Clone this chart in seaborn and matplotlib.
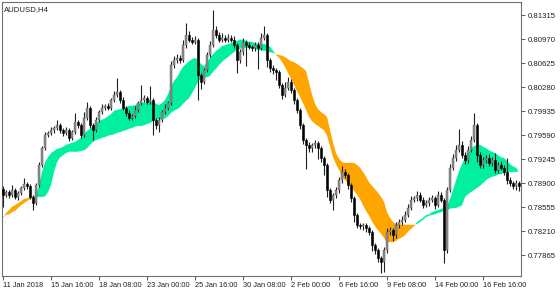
import matplotlib
matplotlib.use("Agg")
import matplotlib.pyplot as plt
import seaborn as sns
import numpy as np
import pandas as pd

symbol_title = "AUDUSD,H4"

first_open = 0.7882
closes = [
    0.7873, 0.7877, 0.7873, 0.7880, 0.7870, 0.7876, 0.7883, 0.7889, 0.7886, 0.7870,
    0.7861, 0.7887, 0.7916, 0.7940, 0.7959, 0.7962, 0.7966, 0.7969, 0.7973, 0.7966,
    0.7962, 0.7966, 0.7955, 0.7963, 0.7978, 0.7973, 0.7959, 0.7984, 0.7998, 0.7973,
    0.7966, 0.7981, 0.7992, 0.7998, 0.8001, 0.7998, 0.8009, 0.8017, 0.8021, 0.8009,
    0.7998, 0.7991, 0.7984, 0.7986, 0.7995, 0.8005, 0.8009, 0.8012, 0.8007, 0.8009,
    0.7981, 0.7973, 0.7981, 0.7992, 0.7998, 0.8005, 0.8060, 0.8067, 0.8070, 0.8067,
    0.8088, 0.8103, 0.8096, 0.8093, 0.8096, 0.8045, 0.8035, 0.8052, 0.8074, 0.8088,
    0.8110, 0.8103, 0.8096, 0.8099, 0.8096, 0.8099, 0.8096, 0.8088, 0.8067, 0.8078,
    0.8093, 0.8088, 0.8086, 0.8084, 0.8088, 0.8084, 0.8099, 0.8103, 0.8067, 0.8055,
    0.8052, 0.8050, 0.8031, 0.8017, 0.8027, 0.8035, 0.8024, 0.8009, 0.7995, 0.7973,
    0.7952, 0.7945, 0.7940, 0.7945, 0.7948, 0.7940, 0.7926, 0.7916, 0.7880, 0.7866,
    0.7873, 0.7880, 0.7894, 0.7906, 0.7902, 0.7887, 0.7868, 0.7844, 0.7830, 0.7828,
    0.7830, 0.7825, 0.7820, 0.7801, 0.7794, 0.7782, 0.7777, 0.7794, 0.7820, 0.7823,
    0.7815, 0.7830, 0.7834, 0.7837, 0.7844, 0.7854, 0.7866, 0.7868, 0.7873, 0.7866,
    0.7858, 0.7861, 0.7866, 0.7868, 0.7858, 0.7873, 0.7866, 0.7794, 0.7880, 0.7912,
    0.7926, 0.7938, 0.7945, 0.7930, 0.7923, 0.7938, 0.7952, 0.7973, 0.7930, 0.7916,
    0.7923, 0.7926, 0.7919, 0.7923, 0.7909, 0.7916, 0.7912, 0.7906, 0.7894, 0.7890,
    0.7886, 0.7890, 0.7886,
]

upper_wick_pips = [
    3, 3, 3, 7, 3, 3, 3, 8, 3, 3,
    3, 3, 4, 3, 4, 3, 5, 3, 8, 3,
    3, 4, 3, 3, 12, 3, 3, 8, 8, 3,
    3, 4, 3, 5, 3, 4, 3, 5, 20, 3,
    5, 3, 4, 3, 5, 3, 22, 5, 3, 20,
    3, 3, 4, 3, 5, 3, 5, 6, 5, 4,
    8, 17, 5, 4, 6, 3, 3, 4, 5, 6,
    29, 5, 4, 6, 4, 5, 4, 5, 3, 5,
    6, 3, 4, 3, 5, 4, 6, 12, 3, 3,
    4, 3, 3, 3, 8, 8, 4, 3, 3, 3,
    3, 3, 4, 3, 4, 3, 3, 3, 3, 3,
    3, 4, 5, 8, 4, 3, 3, 3, 3, 3,
    3, 3, 3, 3, 3, 3, 3, 4, 5, 4,
    3, 4, 4, 6, 6, 6, 6, 4, 5, 4,
    4, 5, 4, 5, 4, 6, 4, 3, 4, 5,
    5, 6, 22, 5, 4, 5, 6, 17, 3, 4,
    5, 4, 6, 4, 10, 4, 5, 4, 20, 4,
    3, 4, 3,
]

lower_wick_pips = [
    17, 3, 4, 3, 3, 4, 3, 3, 4, 3,
    10, 3, 3, 3, 3, 3, 3, 4, 3, 4,
    4, 3, 5, 3, 3, 4, 5, 3, 3, 4,
    14, 3, 3, 3, 3, 3, 3, 3, 3, 4,
    3, 4, 4, 3, 3, 3, 3, 3, 3, 3,
    22, 5, 10, 3, 3, 3, 3, 4, 4, 4,
    3, 4, 4, 3, 3, 36, 10, 3, 3, 3,
    3, 4, 4, 3, 4, 3, 4, 4, 19, 4,
    4, 30, 4, 4, 4, 30, 3, 3, 10, 6,
    6, 12, 5, 6, 4, 4, 5, 5, 5, 6,
    6, 35, 6, 6, 5, 15, 6, 15, 10, 5,
    15, 5, 4, 4, 5, 5, 6, 10, 5, 4,
    5, 5, 5, 8, 6, 6, 16, 15, 5, 5,
    8, 4, 4, 4, 3, 3, 3, 3, 4, 3,
    4, 3, 4, 3, 5, 3, 4, 19, 4, 3,
    3, 4, 3, 4, 5, 4, 3, 3, 10, 5,
    4, 4, 5, 4, 5, 4, 4, 5, 6, 5,
    5, 6, 8,
]

fast_line = [
    0.7842,
    0.7844, 0.7845, 0.7848, 0.7850, 0.7854, 0.7858, 0.7861, 0.7864, 0.7867, 0.7870,
    0.7873, 0.7887, 0.7906, 0.7920, 0.7927, 0.7933, 0.7936, 0.7939, 0.7940, 0.7942,
    0.7945, 0.7946, 0.7948, 0.7949, 0.7952, 0.7955, 0.7959, 0.7965, 0.7968, 0.7972,
    0.7976, 0.7979, 0.7981, 0.7983, 0.7986, 0.7989, 0.7994, 0.7995, 0.7996, 0.7998,
    0.7999, 0.8001, 0.8001, 0.8002, 0.8004, 0.8005, 0.8006, 0.8006, 0.8008, 0.8006,
    0.8004, 0.8002, 0.8005, 0.8009, 0.8018, 0.8028, 0.8037, 0.8042, 0.8050, 0.8057,
    0.8061, 0.8065, 0.8068, 0.8070, 0.8067, 0.8061, 0.8058, 0.8063, 0.8070, 0.8075,
    0.8080, 0.8083, 0.8087, 0.8088, 0.8090, 0.8091, 0.8093, 0.8094, 0.8096, 0.8096,
    0.8094, 0.8093, 0.8093, 0.8091, 0.8090, 0.8090, 0.8090, 0.8088, 0.8086, 0.8080,
    0.8074, 0.8070, 0.8064, 0.8057, 0.8048, 0.8040, 0.8031, 0.8022, 0.8014, 0.8005,
    0.7995, 0.7985, 0.7979, 0.7975, 0.7972, 0.7969, 0.7966, 0.7958, 0.7943, 0.7927,
    0.7917, 0.7909, 0.7900, 0.7894, 0.7889, 0.7884, 0.7879, 0.7873, 0.7867, 0.7858,
    0.7850, 0.7843, 0.7835, 0.7828, 0.7822, 0.7817, 0.7811, 0.7805, 0.7805, 0.7805,
    0.7807, 0.7810, 0.7812, 0.7815, 0.7820, 0.7824, 0.7828,
    0.7834, 0.7837, 0.7840, 0.7844, 0.7845, 0.7848, 0.7850, 0.7851, 0.7853, 0.7854,
    0.7857, 0.7867, 0.7880, 0.7894, 0.7907, 0.7917, 0.7927, 0.7933, 0.7939, 0.7943,
    0.7945, 0.7945, 0.7942, 0.7940, 0.7937, 0.7935, 0.7933, 0.7930, 0.7927, 0.7926,
    0.7922, 0.7917, 0.7914, 0.7912,
    0.7906,
]

slow_line = [
    0.7840,
    0.7847, 0.7851, 0.7856, 0.7858, 0.7861, 0.7864, 0.7867, 0.7868, 0.7870, 0.7871,
    0.7870, 0.7870, 0.7870, 0.7871, 0.7877, 0.7887, 0.7906, 0.7920, 0.7927, 0.7930,
    0.7933, 0.7935, 0.7935, 0.7935, 0.7935, 0.7936, 0.7937, 0.7940, 0.7945, 0.7949,
    0.7952, 0.7953, 0.7955, 0.7956, 0.7958, 0.7959, 0.7960, 0.7962, 0.7963, 0.7965,
    0.7966, 0.7968, 0.7969, 0.7971, 0.7972, 0.7972, 0.7973, 0.7975, 0.7976, 0.7979,
    0.7981, 0.7982, 0.7982, 0.7983, 0.7986, 0.7991, 0.7994, 0.7996, 0.7999, 0.8004,
    0.8008, 0.8012, 0.8019, 0.8027, 0.8035, 0.8041, 0.8042, 0.8042, 0.8044, 0.8050,
    0.8054, 0.8060, 0.8064, 0.8068, 0.8071, 0.8075, 0.8078, 0.8081, 0.8083, 0.8084,
    0.8084, 0.8084, 0.8084, 0.8083, 0.8081, 0.8081, 0.8080, 0.8080, 0.8078, 0.8077,
    0.8075, 0.8074, 0.8073, 0.8071, 0.8068, 0.8065, 0.8064, 0.8061, 0.8058, 0.8055,
    0.8051, 0.8034, 0.8017, 0.8004, 0.7996, 0.7992, 0.7989, 0.7985, 0.7966, 0.7948,
    0.7933, 0.7925, 0.7920, 0.7919, 0.7919, 0.7919, 0.7919, 0.7916, 0.7912, 0.7906,
    0.7899, 0.7891, 0.7886, 0.7881, 0.7876, 0.7870, 0.7863, 0.7848, 0.7840, 0.7834,
    0.7831, 0.7830, 0.7830, 0.7830, 0.7830, 0.7830, 0.7830,
    0.7831, 0.7834, 0.7837, 0.7841, 0.7843, 0.7844, 0.7845, 0.7847, 0.7848, 0.7850,
    0.7851, 0.7853, 0.7854, 0.7854, 0.7856, 0.7858, 0.7870, 0.7874, 0.7877, 0.7880,
    0.7883, 0.7886, 0.7890, 0.7894, 0.7897, 0.7899, 0.7900, 0.7902, 0.7903, 0.7904,
    0.7906, 0.7906, 0.7906, 0.7906,
    0.7907,
]

date_labels = ["11 Jan 2018", "15 Jan 16:00", "18 Jan 08:00", "23 Jan 00:00",
               "25 Jan 16:00", "30 Jan 08:00", "2 Feb 00:00", "6 Feb 16:00",
               "9 Feb 08:00", "14 Feb 00:00", "16 Feb 16:00"]
date_label_bars = [0, 16, 32, 48, 64, 80, 96, 112, 128, 144, 160]
price_ticks = [0.77865, 0.78210, 0.78555, 0.78900, 0.79245, 0.79590,
               0.79935, 0.80280, 0.80625, 0.80970, 0.81315]

sns.set_theme(style="white")
plt.rcParams['font.family'] = ['Liberation Sans', 'DejaVu Sans']

n = len(closes)
df = pd.DataFrame({
    "bar": np.arange(n),
    "close": closes,
    "open": [first_open] + closes[:-1],
    "up": upper_wick_pips,
    "dn": lower_wick_pips,
    "fast": fast_line,
    "slow": slow_line,
})
df["top"] = df[["open", "close"]].max(axis=1)
df["bot"] = df[["open", "close"]].min(axis=1)
df["high"] = df["top"] + df["up"] / 10000.0
df["low"] = df["bot"] - df["dn"] / 10000.0
df["bull"] = df["close"] >= df["open"]

W, H = 560, 294
fig = plt.figure(figsize=(W / 100, H / 100), dpi=100)
fig.patch.set_facecolor("white")
ax = fig.add_axes([2 / W, 18 / H, 519 / W, 274 / H])
ax.set_facecolor("white")

GREEN = "#00F0A0"
ORANGE = "#FFA500"
x = df["bar"].to_numpy(dtype=float)
f = df["fast"].to_numpy()
s = df["slow"].to_numpy()
ax.fill_between(x, f, s, where=f >= s, interpolate=True, color=GREEN, lw=0, zorder=1)
ax.fill_between(x, f, s, where=f <= s, interpolate=True, color=ORANGE, lw=0, zorder=1)

# wicks
ax.vlines(df["bar"], df["low"], df["high"], color="#202020", lw=0.8, zorder=2)
# bodies
heights = np.maximum(df["top"] - df["bot"], 0.00006)
bull = df["bull"].to_numpy()
ax.bar(df["bar"][bull], heights[bull], bottom=df["bot"][bull], width=0.62,
       color="#8c8c8c", edgecolor="#5a5a5a", linewidth=0.3, zorder=3)
ax.bar(df["bar"][~bull], heights[~bull], bottom=df["bot"][~bull], width=0.62,
       color="black", edgecolor="black", linewidth=0.4, zorder=3)

ax.set_xlim(-0.35, 172.65)
ax.set_ylim(0.775635, 0.81502)

ax.yaxis.tick_right()
ax.set_yticks(price_ticks)
ax.set_yticklabels([f"{p:.5f}" for p in price_ticks])
ax.set_xticks(date_label_bars)
ax.set_xticklabels(date_labels)
for lab in ax.get_xticklabels():
    lab.set_ha("left")
ax.tick_params(axis="y", which="both", right=True, left=False, direction="out",
               length=3, width=0.6, color="#404040", labelsize=5.6, pad=1.5,
               labelcolor="#202020")
ax.tick_params(axis="x", which="both", bottom=True, direction="out",
               length=3, width=0.6, color="#404040", labelsize=5.3, pad=1.5,
               labelcolor="#202020")
for sp in ax.spines.values():
    sp.set_visible(True)
    sp.set_color("#707070")
    sp.set_linewidth(0.8)
ax.grid(False)

ax.text(0.004, 0.985, symbol_title, transform=ax.transAxes, ha="left", va="top",
        fontsize=5.6, color="#202020")

fig.savefig("out.png", dpi=100, facecolor="white")
